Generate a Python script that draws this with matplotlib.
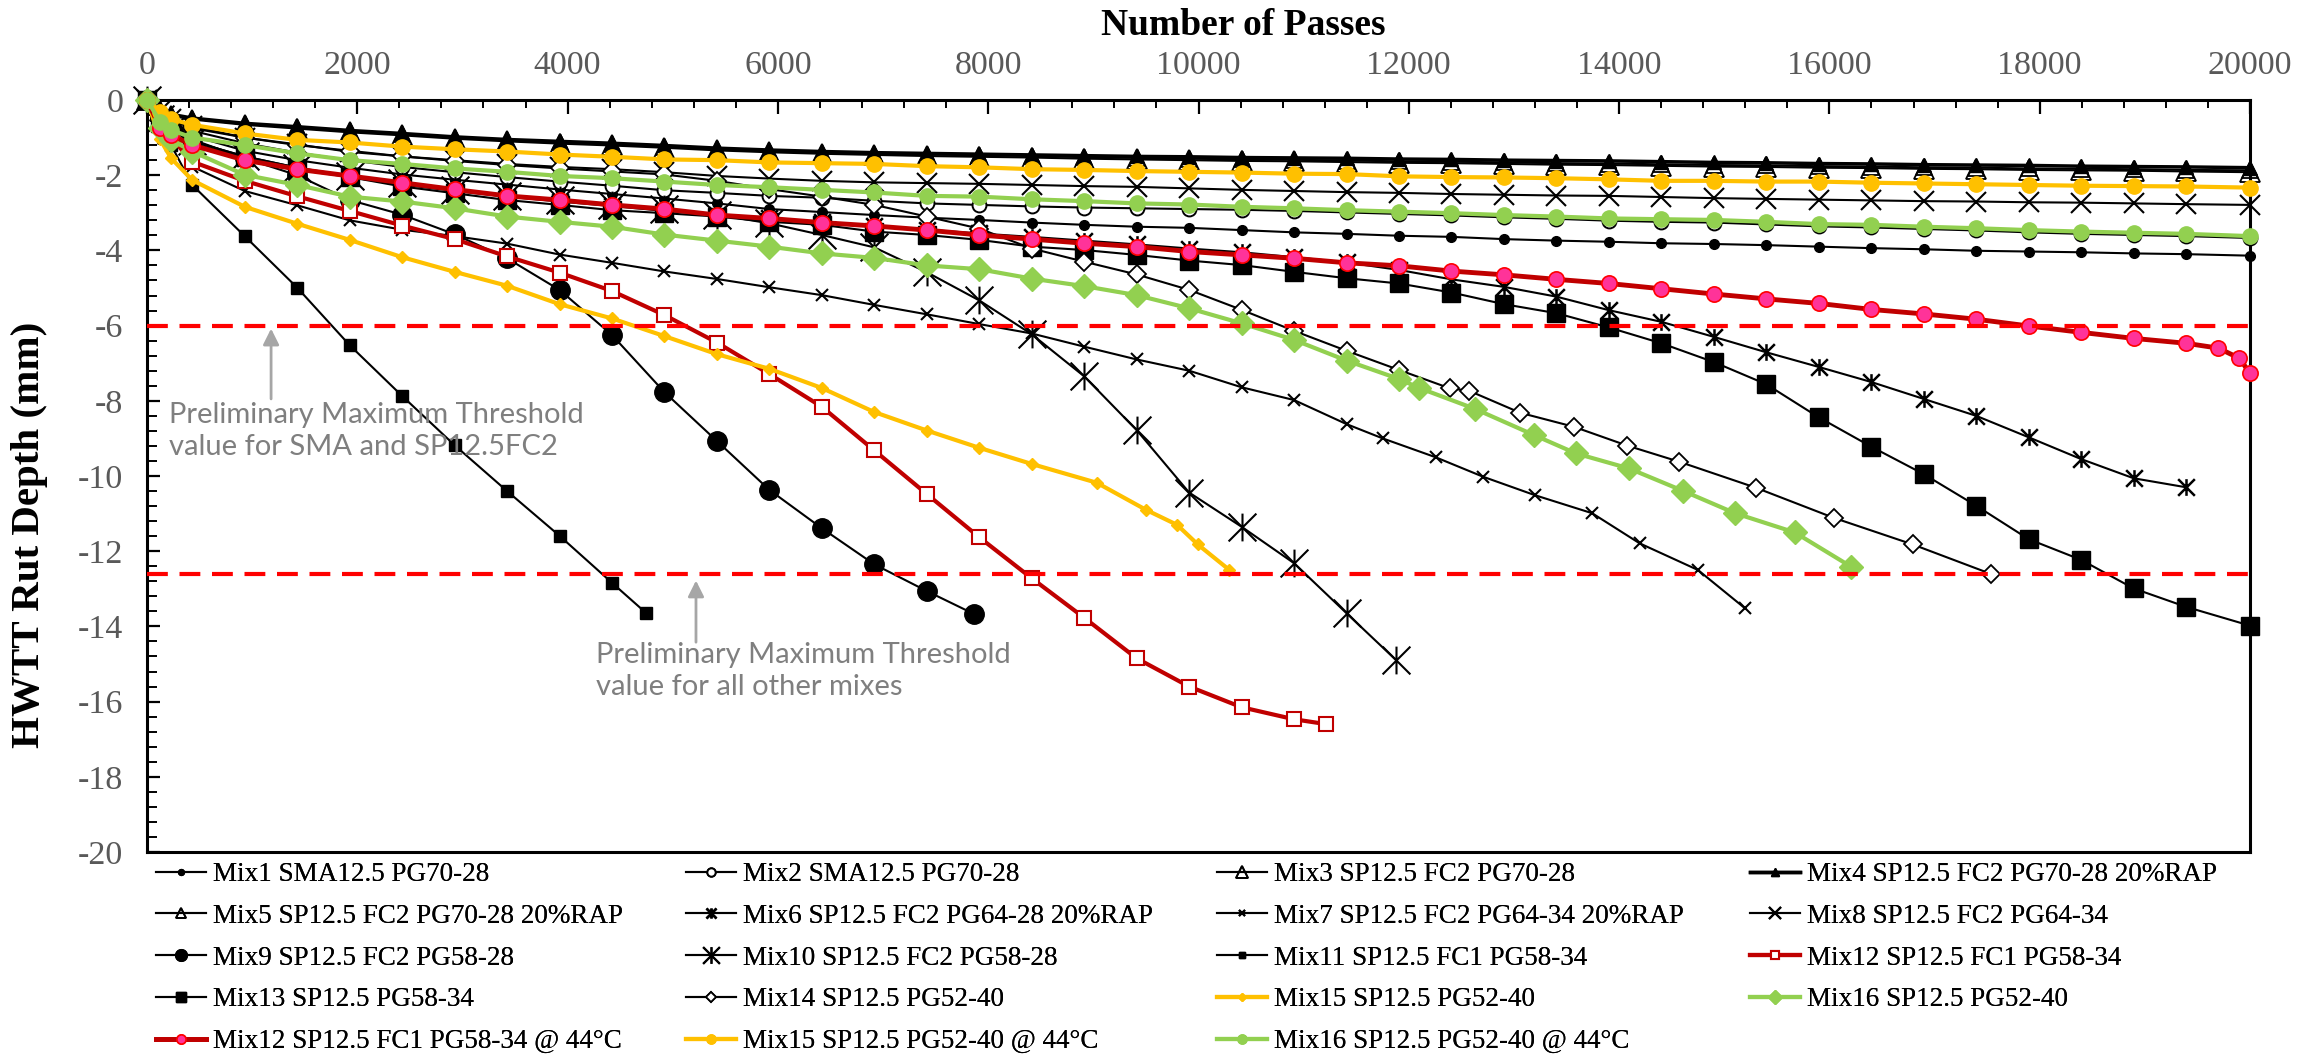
import matplotlib
matplotlib.use('Agg')
import matplotlib.pyplot as plt
from matplotlib.path import Path
from matplotlib.ticker import MultipleLocator

plt.rcParams['axes.unicode_minus'] = False
SERIF = 'Liberation Serif'
SANS = 'Lato'

# ---------------- data ----------------
PASSES = [0, 125, 230, 430, 929, 1428, 1927, 2426, 2925, 3424, 3923, 4422, 4921,
          5420, 5919, 6418, 6917, 7416, 7915, 8414, 8913, 9412, 9911,
          10410, 10909, 11408, 11907, 12406, 12905, 13404, 13903, 14402, 14901,
          15400, 15899, 16398, 16897, 17396, 17895, 18394, 18893, 19392, 20000]

MIX1 = [0, -0.45, -0.70,
        -0.95, -1.35, -1.60, -1.80, -1.98, -2.12, -2.25, -2.38, -2.50, -2.62,
        -2.75, -2.90, -2.98, -3.06, -3.13, -3.19, -3.26, -3.32, -3.37, -3.40,
        -3.46, -3.52, -3.56, -3.61, -3.64, -3.70, -3.74, -3.77, -3.81,
        -3.83, -3.86, -3.90, -3.94, -3.97, -4.01, -4.03, -4.05, -4.08, -4.10,
        -4.14]
MIX2 = [0, -0.40, -0.62,
        -0.82, -1.15, -1.40, -1.60, -1.78, -1.92, -2.05, -2.17, -2.28, -2.40,
        -2.47, -2.55, -2.60, -2.68, -2.75, -2.79, -2.83, -2.86, -2.88, -2.90,
        -2.92, -2.95, -2.99, -3.03, -3.07, -3.12, -3.16, -3.21, -3.24,
        -3.26, -3.31, -3.36, -3.39, -3.43, -3.47, -3.52, -3.56, -3.59, -3.62,
        -3.67]
MIX3 = [0, -0.28, -0.42,
        -0.52, -0.66, -0.76, -0.86, -0.94, -1.03, -1.10, -1.16, -1.21, -1.27,
        -1.34, -1.39, -1.43, -1.46, -1.49, -1.51, -1.53, -1.56, -1.58, -1.60,
        -1.62, -1.63, -1.65, -1.67, -1.68, -1.70, -1.72, -1.73, -1.75,
        -1.77, -1.78, -1.80, -1.81, -1.83, -1.84, -1.86, -1.87, -1.88, -1.90,
        -1.92]
MIX4 = [0, -0.25, -0.38,
        -0.48, -0.62, -0.71, -0.81, -0.89, -0.98, -1.05, -1.10, -1.15, -1.21,
        -1.28, -1.33, -1.37, -1.40, -1.42, -1.44, -1.46, -1.48, -1.50, -1.51,
        -1.53, -1.54, -1.55, -1.57, -1.58, -1.60, -1.61, -1.62, -1.64,
        -1.66, -1.67, -1.69, -1.70, -1.72, -1.73, -1.74, -1.76, -1.77, -1.78,
        -1.80]
MIX5 = [0, -0.26, -0.40,
        -0.50, -0.64, -0.73, -0.83, -0.91, -1.00, -1.07, -1.13, -1.18, -1.24,
        -1.31, -1.36, -1.40, -1.43, -1.45, -1.47, -1.49, -1.52, -1.54, -1.56,
        -1.58, -1.59, -1.61, -1.63, -1.64, -1.66, -1.68, -1.69, -1.71,
        -1.73, -1.74, -1.76, -1.77, -1.79, -1.80, -1.82, -1.83, -1.84, -1.86,
        -1.87]
MIX6 = [0, -0.60, -0.88,
        -1.15, -1.55, -1.85, -2.05, -2.25, -2.42, -2.57, -2.70, -2.82, -2.95,
        -3.05, -3.15, -3.25, -3.35, -3.45, -3.55, -3.64, -3.74, -3.84, -3.95,
        -4.05, -4.18, -4.32, -4.52, -4.77, -4.97, -5.23, -5.59, -5.90,
        -6.30, -6.71, -7.10, -7.50, -7.95, -8.40, -8.97, -9.55, -10.06, -10.30]
MIX7_TAIL_X = [11752, 12254, 12707, 13199, 13744, 14195, 14750, 15198]
MIX7 = [0, -0.55, -0.95,
        -1.77, -2.42, -2.80, -3.20, -3.45, -3.62, -3.82, -4.11, -4.33, -4.56,
        -4.76, -4.98, -5.19, -5.45, -5.70, -5.96, -6.21, -6.56, -6.90, -7.20,
        -7.64, -7.98, -8.62,
        -9.00, -9.50, -10.02, -10.51, -10.99, -11.79, -12.50, -13.52]
MIX8 = [0, -0.30, -0.50,
        -0.70, -1.00, -1.18, -1.38, -1.50, -1.60, -1.70, -1.78, -1.84, -1.92,
        -2.02, -2.09, -2.15, -2.19, -2.21, -2.23, -2.26, -2.29, -2.31, -2.35,
        -2.39, -2.42, -2.45, -2.47, -2.50, -2.52, -2.54, -2.55, -2.58,
        -2.61, -2.63, -2.65, -2.67, -2.69, -2.70, -2.72, -2.73, -2.75, -2.77,
        -2.79]
MIX9_TAIL_X = [7865]
MIX9 = [0, -0.45, -0.75,
        -1.05, -1.55, -2.00, -2.66, -3.05, -3.57, -4.21, -5.05, -6.25, -7.77,
        -9.07, -10.37, -11.39, -12.35, -13.06,
        -13.67]
MIX10_TAIL_X = [11877]
MIX10 = [0, -0.50, -0.80,
         -1.10, -1.50, -1.80, -2.02, -2.22, -2.40, -2.54, -2.66, -2.78, -2.90,
         -3.05, -3.28, -3.59, -3.92, -4.58, -5.33, -6.23, -7.35, -8.78, -10.44,
         -11.35, -12.32, -13.65,
         -14.89]
MIX11_TAIL_X = [4745]
MIX11 = [0, -0.55, -1.20, -2.26, -3.62, -4.99, -6.52, -7.87, -9.18, -10.40,
         -11.59, -12.84, -13.64]
MIX12_TAIL_X = [11216]
MIX12 = [0, -0.60, -1.00,
         -1.64, -2.15, -2.56, -2.95, -3.34, -3.70, -4.16, -4.59, -5.08, -5.72,
         -6.45, -7.29, -8.16, -9.32, -10.48, -11.63, -12.72, -13.77, -14.85, -15.60,
         -16.15, -16.47,
         -16.60]
MIX13 = [0, -0.60, -0.85,
         -1.10, -1.50, -1.80, -2.05, -2.30, -2.48, -2.66, -2.79, -2.93, -3.01,
         -3.10, -3.24, -3.32, -3.50, -3.59, -3.72, -3.90, -3.99, -4.12, -4.27,
         -4.39, -4.57, -4.74, -4.88, -5.12, -5.43, -5.67, -6.05, -6.47,
         -6.97, -7.56, -8.44, -9.22, -9.95, -10.79, -11.68, -12.23, -12.99, -13.48,
         -13.98]
MIX14_TAIL_X = [12392, 12570, 13061, 13569, 14075, 14571, 15299, 16039, 16792, 17541]
MIX14 = [0, -0.35, -0.55,
         -0.75, -1.00, -1.20, -1.35, -1.50, -1.62, -1.73, -1.82, -1.90, -1.98,
         -2.15, -2.37, -2.57, -2.79, -3.10, -3.42, -3.95, -4.30, -4.64, -5.05,
         -5.58, -6.14, -6.67, -7.18,
         -7.67, -7.73, -8.32, -8.69, -9.19, -9.62, -10.31, -11.11, -11.82, -12.61]
MIX15_TAIL_X = [9033, 9501, 9797, 9993, 10294]
MIX15 = [0, -1.05, -1.55,
         -2.13, -2.84, -3.29, -3.72, -4.18, -4.57, -4.94, -5.43, -5.81, -6.28,
         -6.76, -7.15, -7.66, -8.30, -8.79, -9.25, -9.68,
         -10.18, -10.90, -11.30, -11.82, -12.50]
MIX16_TAIL_X = [12100, 12625, 13190, 13590, 14095, 14612, 15103, 15670, 16205]
MIX16 = [0, -0.75, -1.06,
         -1.37, -1.99, -2.26, -2.57, -2.70, -2.88, -3.10, -3.24, -3.37, -3.58,
         -3.74, -3.90, -4.08, -4.20, -4.40, -4.50, -4.75, -4.95, -5.19, -5.54,
         -5.94, -6.38, -6.93, -7.42,
         -7.66, -8.21, -8.91, -9.40, -9.80, -10.40, -10.99, -11.50, -12.41]
MIX12_44_TAIL_X = [19700, 19900, 20000]
MIX12_44 = [0, -0.75, -0.93,
            -1.20, -1.60, -1.84, -2.02, -2.20, -2.38, -2.55, -2.66, -2.79, -2.90,
            -3.06, -3.15, -3.26, -3.35, -3.46, -3.59, -3.70, -3.81, -3.90, -4.03,
            -4.12, -4.21, -4.33, -4.41, -4.55, -4.65, -4.77, -4.88, -5.02,
            -5.16, -5.29, -5.41, -5.57, -5.69, -5.83, -6.01, -6.18, -6.34, -6.47,
            -6.60, -6.87, -7.27]
MIX15_44 = [0, -0.31, -0.51,
            -0.66, -0.89, -1.06, -1.13, -1.24, -1.31, -1.37, -1.45, -1.51, -1.58,
            -1.60, -1.66, -1.68, -1.70, -1.76, -1.79, -1.84, -1.86, -1.89, -1.91,
            -1.93, -1.96, -1.97, -2.03, -2.05, -2.06, -2.08, -2.11, -2.15,
            -2.15, -2.17, -2.17, -2.20, -2.22, -2.24, -2.26, -2.28, -2.29, -2.30,
            -2.33]
MIX16_44 = [0, -0.58, -0.80,
            -1.00, -1.20, -1.42, -1.60, -1.70, -1.82, -1.91, -2.02, -2.08, -2.17,
            -2.26, -2.32, -2.39, -2.46, -2.55, -2.57, -2.64, -2.69, -2.75, -2.78,
            -2.84, -2.88, -2.93, -2.97, -3.01, -3.06, -3.10, -3.15, -3.17,
            -3.19, -3.24, -3.30, -3.32, -3.37, -3.41, -3.46, -3.50, -3.53, -3.56,
            -3.62]

THRESHOLD_SMA = -6.0
THRESHOLD_OTHER = -12.6
X_TICKS = [0, 2000, 4000, 6000, 8000, 10000, 12000, 14000, 16000, 18000, 20000]
Y_TICKS = [0, -2, -4, -6, -8, -10, -12, -14, -16, -18, -20]


def xs_for(y, tail=()):
    n = len(y) - len(tail)
    return PASSES[:n] + list(tail)


# ---------------- styling ----------------
GOLD = '#FFC000'
GREEN = '#92D050'
DRED = '#C00000'
PINK = '#FF3399'

star_path = Path([(-0.5, -0.5), (0.5, 0.5), (-0.5, 0.5), (0.5, -0.5), (0, -0.5), (0, 0.5)],
                 [Path.MOVETO, Path.LINETO, Path.MOVETO, Path.LINETO, Path.MOVETO, Path.LINETO])

blk = dict(color='black', lw=1.5)
series = [
    ('Mix1 SMA12.5 PG70-28', xs_for(MIX1), MIX1, dict(blk, marker='o', ms=7)),
    ('Mix2 SMA12.5 PG70-28', xs_for(MIX2), MIX2, dict(blk, marker='o', ms=10, mfc='white', mec='black', mew=1.4)),
    ('Mix3 SP12.5 FC2 PG70-28', xs_for(MIX3), MIX3, dict(blk, marker='^', ms=14, mfc='none', mec='black', mew=1.3)),
    ('Mix4 SP12.5 FC2 PG70-28 20%RAP', xs_for(MIX4), MIX4, dict(color='black', lw=2.5, marker='^', ms=10)),
    ('Mix5 SP12.5 FC2 PG70-28 20%RAP', xs_for(MIX5), MIX5, dict(blk, marker='^', ms=12, mfc='none', mec='black', mew=1.3)),
    ('Mix6 SP12.5 FC2 PG64-28 20%RAP', xs_for(MIX6), MIX6, dict(blk, marker=star_path, ms=12, mew=1.8)),
    ('Mix7 SP12.5 FC2 PG64-34 20%RAP', xs_for(MIX7, MIX7_TAIL_X), MIX7, dict(blk, marker='x', ms=8, mew=1.5)),
    ('Mix8 SP12.5 FC2 PG64-34', xs_for(MIX8), MIX8, dict(blk, marker='x', ms=14, mew=1.5)),
    ('Mix9 SP12.5 FC2 PG58-28', xs_for(MIX9, MIX9_TAIL_X), MIX9, dict(blk, marker='o', ms=14)),
    ('Mix10 SP12.5 FC2 PG58-28', xs_for(MIX10, MIX10_TAIL_X), MIX10, dict(blk, marker=star_path, ms=20, mew=1.5)),
    ('Mix11 SP12.5 FC1 PG58-34', xs_for(MIX11, MIX11_TAIL_X), MIX11, dict(blk, marker='s', ms=8)),
    ('Mix12 SP12.5 FC1 PG58-34', xs_for(MIX12, MIX12_TAIL_X), MIX12, dict(color=DRED, lw=3, marker='s', ms=10, mfc='white', mec=DRED, mew=1.5)),
    ('Mix13 SP12.5 PG58-34', xs_for(MIX13), MIX13, dict(blk, marker='s', ms=12.5)),
    ('Mix14 SP12.5 PG52-40', xs_for(MIX14, MIX14_TAIL_X), MIX14, dict(blk, marker='D', ms=9, mfc='white', mec='black', mew=1.3)),
    ('Mix15 SP12.5 PG52-40', xs_for(MIX15, MIX15_TAIL_X), MIX15, dict(color=GOLD, lw=3, marker='D', ms=6.5)),
    ('Mix16 SP12.5 PG52-40', xs_for(MIX16, MIX16_TAIL_X), MIX16, dict(color=GREEN, lw=3, marker='D', ms=12)),
    ('Mix12 SP12.5 FC1 PG58-34 @ 44°C', xs_for(MIX12_44, MIX12_44_TAIL_X), MIX12_44,
     dict(color=DRED, lw=3.5, marker='o', ms=11, mfc=PINK, mec='#FF0000', mew=1.2)),
    ('Mix15 SP12.5 PG52-40 @ 44°C', xs_for(MIX15_44), MIX15_44, dict(color=GOLD, lw=3, marker='o', ms=11)),
    ('Mix16 SP12.5 PG52-40 @ 44°C', xs_for(MIX16_44), MIX16_44, dict(color=GREEN, lw=3, marker='o', ms=11)),
]

W, H = 2318, 1055
fig = plt.figure(figsize=(W / 100, H / 100), dpi=100)
L, R, T, B = 147, 2250, 100, 852
ax = fig.add_axes([L / W, 1 - B / H, (R - L) / W, (B - T) / H])

handles = {}
for i, (lab, xs, ys, st) in enumerate(series):
    ln, = ax.plot(xs, ys, label=lab, clip_on=False, solid_joinstyle='round',
                  zorder=3 + i * 0.01, **st)
    handles[lab] = ln

for yv in (THRESHOLD_SMA, THRESHOLD_OTHER):
    ax.axhline(yv, color='#FF0000', lw=3, dashes=(5.0, 2.8), zorder=5)

ax.set_xlim(0, 20000)
ax.set_ylim(-20, 0)
ax.xaxis.tick_top()
ax.set_xticks(X_TICKS)
ax.set_yticks(Y_TICKS)
ax.xaxis.set_minor_locator(MultipleLocator(400))
ax.yaxis.set_minor_locator(MultipleLocator(0.4))
ax.tick_params(axis='x', which='major', direction='in', length=10, width=1.6, pad=14,
               labelsize=24.5, labelcolor='#595959', top=True, bottom=False)
ax.tick_params(axis='x', which='minor', direction='in', length=6, width=1.4, top=True, bottom=False)
ax.tick_params(axis='y', which='major', direction='in', length=9, width=1.6, pad=17,
               labelsize=24.5, labelcolor='#595959', left=True, right=False)
ax.tick_params(axis='y', which='minor', direction='in', length=7, width=1.4, left=True, right=False)
for lbl in ax.get_xticklabels() + ax.get_yticklabels():
    lbl.set_fontfamily(SERIF)
for sp in ax.spines.values():
    sp.set_linewidth(2.2)
    sp.set_color('black')

fig.text(1243 / W, 1 - 35 / H, 'Number of Passes', ha='center', va='baseline',
         fontsize=27, fontweight='bold', family=SERIF)
fig.text(30 / W, 1 - 535 / H, 'HWTT Rut Depth (mm)', ha='center', va='center', rotation=90,
         fontsize=29.5, fontweight='bold', family=SERIF)

# annotations
ax.text(209, -8.02, 'Preliminary Maximum Threshold\nvalue for SMA and SP12.5FC2',
        color='#7F7F7F', fontsize=21, family=SANS, va='top', ha='left', linespacing=1.3, zorder=8)
ax.annotate('', xy=(1180, -6.08), xytext=(1180, -7.95),
            arrowprops=dict(arrowstyle='-|>', color='#A6A6A6', lw=2, mutation_scale=24,
                            shrinkA=0, shrinkB=0), zorder=8)
ax.text(4270, -14.42, 'Preliminary Maximum Threshold\nvalue for all other mixes',
        color='#7F7F7F', fontsize=21, family=SANS, va='top', ha='left', linespacing=1.3, zorder=8)
ax.annotate('', xy=(5221, -12.78), xytext=(5221, -14.42),
            arrowprops=dict(arrowstyle='-|>', color='#A6A6A6', lw=2, mutation_scale=24,
                            shrinkA=0, shrinkB=0), zorder=8)

# legend: 4 columns placed explicitly
labels = [s[0] for s in series]
cols = [
    [labels[0], labels[4], labels[8], labels[12], labels[16]],
    [labels[1], labels[5], labels[9], labels[13], labels[17]],
    [labels[2], labels[6], labels[10], labels[14], labels[18]],
    [labels[3], labels[7], labels[11], labels[15]],
]
col_x = [156, 686, 1217, 1750]
for cx, col in zip(col_x, cols):
    leg = fig.legend([handles[c] for c in col], col, loc='upper left',
                     bbox_to_anchor=(cx / W, 1 - 862 / H), frameon=False, borderpad=0,
                     borderaxespad=0, handlelength=1.85, handletextpad=0.25, labelspacing=0.62,
                     markerscale=0.6, numpoints=1, prop={'family': SERIF, 'size': 19.5})
    fig.add_artist(leg)

fig.savefig('out.png', dpi=100)
